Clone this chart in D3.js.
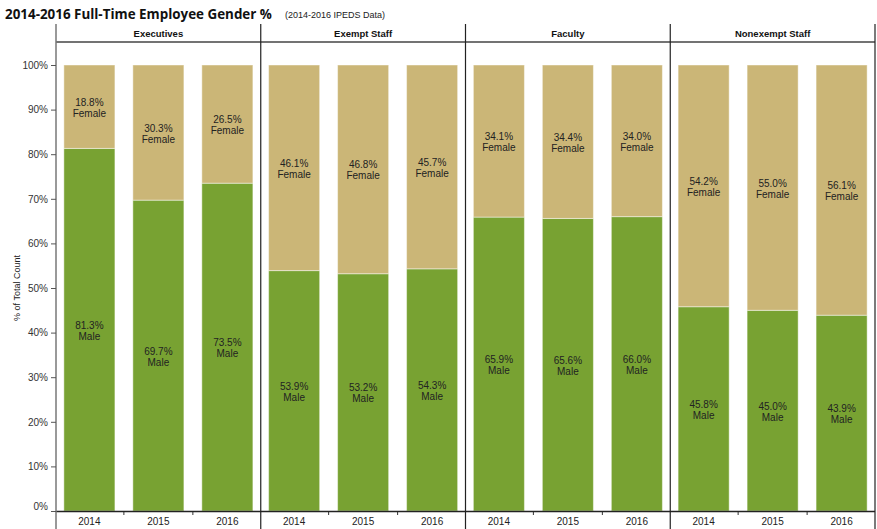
<!DOCTYPE html>
<html><head><meta charset="utf-8">
<script src="https://cdn.jsdelivr.net/npm/d3@7"></script>
<style>body{margin:0;background:#fff}svg{display:block}</style>
</head><body>
<div id="chart"></div>
<script>
const categories = ["Executives", "Exempt Staff", "Faculty", "Nonexempt Staff"];
const years = ["2014", "2015", "2016"];
const maleValues = [
  [81.3, 69.7, 73.5],
  [53.9, 53.2, 54.3],
  [65.9, 65.6, 66.0],
  [45.8, 45.0, 43.9]
];
const femaleValues = [
  [18.8, 30.3, 26.5],
  [46.1, 46.8, 45.7],
  [34.1, 34.4, 34.0],
  [54.2, 55.0, 56.1]
];
const yTicks = [0, 10, 20, 30, 40, 50, 60, 70, 80, 90, 100];

const W = 877, H = 529;
const leftX = 56, rightX = 875, topY = 24, headerBottom = 42, axisY = 511;
const green = "#78a232", tan = "#cbb677";

const svg = d3.select("#chart").append("svg").attr("width", W).attr("height", H)
  .style("font-family", "'Liberation Sans', Arial, sans-serif");

svg.append("text").attr("x", 5).attr("y", 19)
  .style("font-family", "'Open Sans', sans-serif").style("font-weight", "bold")
  .style("font-size", "13.4px").attr("fill", "#111")
  .text("2014-2016 Full-Time Employee Gender %");
svg.append("text").attr("x", 285).attr("y", 18)
  .style("font-size", "9px").attr("fill", "#222").text("(2014-2016 IPEDS Data)");

const x0 = d3.scaleBand().domain(categories).range([leftX, rightX]).padding(0);
const x1 = d3.scaleBand().domain(years).range([0, x0.bandwidth()]).paddingInner(0.26).paddingOuter(0.114);
const y = d3.scaleLinear().domain([0, 100]).range([axisY, 65]);

// header
svg.append("line").attr("x1", leftX).attr("x2", rightX).attr("y1", headerBottom).attr("y2", headerBottom)
  .attr("stroke", "#444").attr("stroke-width", 1.3);
svg.selectAll(".hdr").data(categories).join("text")
  .attr("x", d => x0(d) + x0.bandwidth() / 2).attr("y", 37)
  .attr("text-anchor", "middle").style("font-size", "9.5px").style("font-weight", "bold")
  .attr("fill", "#111").text(d => d);

// bars
categories.forEach((c, ci) => {
  const g = svg.append("g").attr("transform", `translate(${x0(c)},0)`);
  years.forEach((yr, yi) => {
    const m = maleValues[ci][yi], f = femaleValues[ci][yi];
    const bx = x1(yr), bw = x1.bandwidth();
    g.append("rect").attr("x", bx).attr("width", bw)
      .attr("y", y(m)).attr("height", y(0) - y(m))
      .attr("fill", green).attr("stroke", "#fff").attr("stroke-opacity", 0.45);
    g.append("rect").attr("x", bx).attr("width", bw)
      .attr("y", y(100)).attr("height", y(m) - y(100))
      .attr("fill", tan).attr("stroke", "#fff").attr("stroke-opacity", 0.45);
    const cx = bx + bw / 2;
    const fm = (y(100) + y(m)) / 2, mm = (y(m) + y(0)) / 2;
    const lbl = (cy, val, name) => {
      const t = g.append("text").attr("x", cx).attr("text-anchor", "middle")
        .style("font-size", "10px").attr("fill", "#222");
      t.append("tspan").attr("x", cx).attr("y", cy - 1).text(val.toFixed(1) + "%");
      t.append("tspan").attr("x", cx).attr("y", cy + 10).text(name);
    };
    lbl(fm, f, "Female");
    lbl(mm, m, "Male");
  });
  const bounds = years.slice(1).map(yr => x1(yr) - x1.step() * x1.paddingInner() / 2);
  g.selectAll(".bt").data(bounds).join("line")
    .attr("x1", d => d).attr("x2", d => d).attr("y1", axisY).attr("y2", axisY + 4)
    .attr("stroke", "#333");
  g.selectAll(".yr").data(years).join("text")
    .attr("x", d => x1(d) + x1.bandwidth() / 2).attr("y", 525)
    .attr("text-anchor", "middle").style("font-size", "10px").attr("fill", "#222").text(d => d);
});

svg.append("line").attr("x1", leftX).attr("x2", rightX).attr("y1", axisY + 0.5).attr("y2", axisY + 0.5)
  .attr("stroke", "#222").attr("stroke-width", 1.3);

const seps = categories.map(c => x0(c)).concat([rightX]);
svg.selectAll(".sep").data(seps).join("line")
  .attr("x1", d => d).attr("x2", d => d).attr("y1", topY).attr("y2", H)
  .attr("stroke", (d, i) => i === 0 ? "#777" : "#222").attr("stroke-width", (d, i) => i === 0 ? 1.5 : 1.2);

const yAxis = svg.append("g").attr("transform", `translate(${leftX},0)`)
  .call(d3.axisLeft(y).tickValues(yTicks).tickFormat(d => d + "%").tickSize(5).tickPadding(3));
yAxis.select(".domain").remove();
yAxis.selectAll("line").attr("stroke", "#555");
yAxis.selectAll("text").style("font-size", "10px").attr("fill", "#333")
  .style("font-family", "'Liberation Sans', Arial, sans-serif")
  .attr("dy", (d) => d === 0 ? "-0.2em" : "0.32em");

svg.append("text").attr("transform", `translate(20,${(65 + axisY) / 2}) rotate(-90)`)
  .attr("text-anchor", "middle").style("font-size", "9px").attr("fill", "#222").text("% of Total Count");
</script>
</body></html>
